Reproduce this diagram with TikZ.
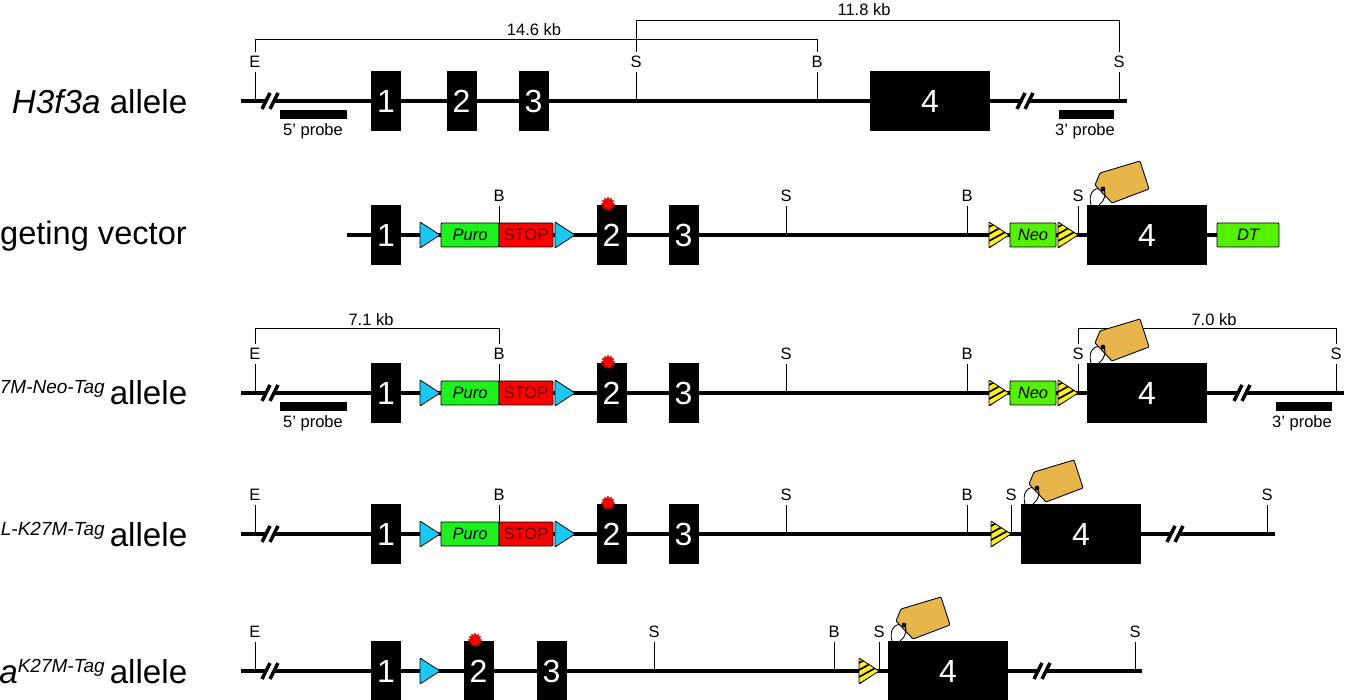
\documentclass[tikz,border=0pt]{standalone}
\usepackage{fontspec}
\setmainfont{Liberation Sans}
\usetikzlibrary{shapes.geometric}
\definecolor{lox}{HTML}{19C8F5}
\definecolor{frt}{HTML}{FFF01E}
\definecolor{puro}{HTML}{1EF01E}
\definecolor{neo}{HTML}{55F000}
\definecolor{hatag}{HTML}{E8B54A}
\newcommand{\sitelist}[2]{\foreach \nm/\xc/\txt in {#2} {
  \coordinate (#1s\nm) at (\xc,0);
  \node[sitelabel] (#1l\nm) at (\xc,-39) {\txt};
  \draw[tick] (#1s\nm) -- (#1l\nm.south);}}
\newcommand{\exons}[2]{\foreach \nm/\xc/\ew/\en in {#2} {
  \node[exon,minimum width=\ew pt] (#1x\nm) at (\xc,0) {\en};}}
\newcommand{\stopblock}[1]{
  \pic at (420,0) {cyantri};
  \node[genebox,fill=puro,minimum width=58pt] (#1puro) at (470,0) {\itshape Puro};
  \node[genebox,fill=red,text=black!65!red,minimum width=54pt] (#1stop) at (526,0) {STOP};
  \pic at (555,0) {cyantri};
  \node[burst] (#1star) at (608,-31) {};}

\begin{document}
\begin{tikzpicture}[x=1pt, y=-1pt,
  every node/.style={inner sep=0pt, font=\fontsize{16.5}{18}\selectfont},
  dna/.style={line width=4.7pt},
  tick/.style={line width=1pt},
  bracket/.style={line width=1pt},
  sitelabel/.style={minimum height=20pt},
  exon/.style={fill=black, text=white, minimum height=60pt, font=\fontsize{32}{34}\selectfont},
  genebox/.style={draw, line width=0.8pt, rounded corners=1pt, minimum height=24pt},
  probe/.style={fill=black, minimum height=9pt},
  allele/.style={anchor=base east, font=\fontsize{33.2}{36}\selectfont},
  burst/.style={star, star points=12, star point ratio=1.5, fill=red, draw=red!70!black, line width=0.3pt, minimum size=14pt},
  linegap/.pic={
    \fill[white] (-4,8) -- (3,-8) -- (9,-8) -- (3,8) -- cycle;
    \draw[line width=3.4pt] (-6,8) -- (2,-8) (2,8) -- (10,-8);},
  cyantri/.pic={
    \draw[fill=lox, line width=0.8pt, rounded corners=0.8pt] (0,-13) -- (20,0) -- (0,13) -- cycle;},
  yellowtri/.pic={
    \begin{scope}
    \clip (0,-13) -- (20,0) -- (0,13) -- cycle;
    \fill[frt] (0,-13) rectangle (20,13);
    \foreach \yy in {-8,-1,6,13,20,27}
      \draw[line width=1.7pt] (0,\yy) -- (20,\yy-11);
    \end{scope}
    \draw[line width=0.8pt, rounded corners=0.8pt] (0,-13) -- (20,0) -- (0,13) -- cycle;},
  histag/.pic={
    \draw[line width=0.9pt] (4,0) .. controls (1,-10) and (6,-19) .. (16,-16);
    \draw[fill=hatag, line width=0.9pt, rounded corners=1pt] (13,-32) -- (53,-44) -- (62,-16) -- (25,-2) -- (8,-20) -- cycle;
    \fill (16,-16) circle (2.4);
    \draw[line width=0.9pt] (16,-16) .. controls (20,-13) and (18,-4) .. (12,0);}]
  \useasboundingbox (0,0) rectangle (1350,700);

  \begin{scope}[yshift=-101pt]
  \node[allele] (r1name) at (187.5,12.5) {\itshape H3f3a\upshape{} allele};
  \coordinate (r1a) at (241,0); \coordinate (r1b) at (1127,0);
  \draw[dna] (r1a) -- (r1b);
  \pic at (268,0) {linegap}; \pic at (1023,0) {linegap};
  \sitelist{r1}{e/255/E,sa/636/S,b/817/B,sb/1119/S}
  \exons{r1}{a/386/30/1,b/461.5/30/2,c/533.5/30/3,d/930/120/4}
  \draw[bracket] (r1le.north) -- ++(0,-12) -| (r1lb.north);
  \draw[bracket] (r1lsa.north) -- ++(0,-31) -| (r1lsb.north);
  \node (r1ka) at (534,-71) {14.6 kb};
  \node (r1kb) at (864,-91) {11.8 kb};
  \node[probe,minimum width=67pt] (r1pa) at (313.5,14) {};
  \node (r1ta) at (313,30) {5’ probe};
  \node[probe,minimum width=55pt] (r1pb) at (1086.5,14) {};
  \node (r1tb) at (1085,30) {3’ probe};
  \end{scope}

  \begin{scope}[yshift=-235pt]
  \node[allele,font=\fontsize{32.6}{36}\selectfont] (r2name) at (187,10) {geting vector};
  \coordinate (r2a) at (347,0); \coordinate (r2b) at (1248,0);
  \draw[dna] (r2a) -- (r2b);
  \sitelist{r2}{ba/499/B,sa/786/S,bb/967/B,sb/1078/S}
  \exons{r2}{a/386/30/1,b/611.5/30/2,c/683.5/30/3,d/1147/120/4}
  \stopblock{r2}
  \pic at (989,0) {yellowtri};
  \node[genebox,fill=neo,minimum width=46pt] (r2neo) at (1033,0) {\itshape Neo};
  \pic at (1058,0) {yellowtri};
  \node[genebox,fill=neo,minimum width=62pt] (r2dt) at (1248,0) {\itshape DT};
  \pic at (1087,-30) {histag};
  \end{scope}

  \begin{scope}[yshift=-393pt]
  \node[allele] (r3name) at (187.5,12) {\raisebox{11pt}{\fontsize{19}{20}\selectfont\itshape 7M-Neo-Tag}\hspace{5pt}allele};
  \coordinate (r3a) at (241,0); \coordinate (r3b) at (1344,0);
  \draw[dna] (r3a) -- (r3b);
  \pic at (268,0) {linegap}; \pic at (1240,0) {linegap};
  \sitelist{r3}{e/255/E,ba/499/B,sa/786/S,bb/967/B,sb/1078/S,sc/1336/S}
  \exons{r3}{a/386/30/1,b/611.5/30/2,c/683.5/30/3,d/1147/120/4}
  \stopblock{r3}
  \pic at (989,0) {yellowtri};
  \node[genebox,fill=neo,minimum width=46pt] (r3neo) at (1033,0) {\itshape Neo};
  \pic at (1058,0) {yellowtri};
  \draw[bracket] (r3le.north) -- ++(0,-15) -| (r3lba.north);
  \draw[bracket] (r3lsb.north) -- ++(0,-15) -| (r3lsc.north);
  \pic at (1087,-30) {histag};
  \node (r3ka) at (371,-73) {7.1 kb};
  \node (r3kb) at (1214,-73) {7.0 kb};
  \node[probe,minimum width=67pt] (r3pa) at (313.5,14) {};
  \node (r3ta) at (313,30) {5’ probe};
  \node[probe,minimum width=56pt] (r3pb) at (1304,14) {};
  \node (r3tb) at (1302,30) {3’ probe};
  \end{scope}

  \begin{scope}[yshift=-534pt]
  \node[allele] (r4name) at (187.5,12) {\raisebox{11pt}{\fontsize{19}{20}\selectfont\itshape L-K27M-Tag}\hspace{5pt}allele};
  \coordinate (r4a) at (241,0); \coordinate (r4b) at (1275,0);
  \draw[dna] (r4a) -- (r4b);
  \pic at (268,0) {linegap}; \pic at (1173,0) {linegap};
  \sitelist{r4}{e/255/E,ba/499/B,sa/786/S,bb/967/B,sb/1011/S,sc/1267/S}
  \exons{r4}{a/386/30/1,b/611.5/30/2,c/683.5/30/3,d/1081/120/4}
  \stopblock{r4}
  \pic at (991,0) {yellowtri};
  \pic at (1021,-30) {histag};
  \end{scope}

  \begin{scope}[yshift=-671pt]
  \node[allele] (r5name) at (187.5,12) {{\itshape a}\raisebox{11pt}{\fontsize{19}{20}\selectfont\itshape K27M-Tag}\hspace{5pt}allele};
  \coordinate (r5a) at (241,0); \coordinate (r5b) at (1142,0);
  \draw[dna] (r5a) -- (r5b);
  \pic at (268,0) {linegap}; \pic at (1040,0) {linegap};
  \sitelist{r5}{e/255/E,sa/654/S,b/834/B,sb/879/S,sc/1135/S}
  \exons{r5}{a/386/30/1,b/478.5/30/2,c/551.5/30/3,d/948/120/4}
  \pic at (420,0) {cyantri};
  \node[burst] (r5star) at (475,-31) {};
  \pic at (859,0) {yellowtri};
  \pic at (888,-30) {histag};
  \end{scope}
\end{tikzpicture}
\end{document}
